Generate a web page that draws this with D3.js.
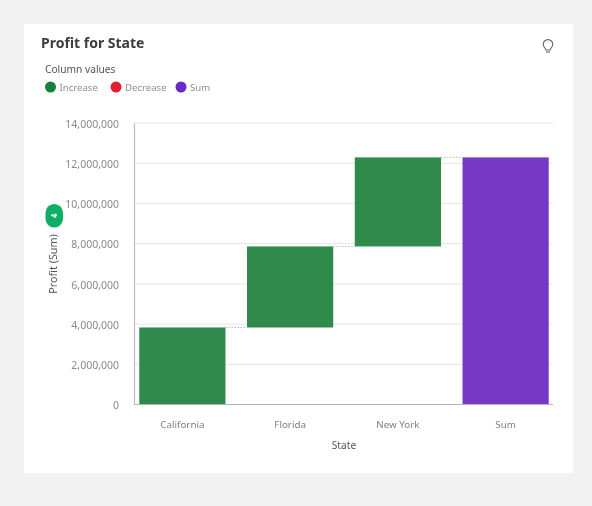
<!DOCTYPE html>
<html>
<head>
<meta charset="utf-8">
<script src="https://cdn.jsdelivr.net/npm/d3@7"></script>
<style>
html,body{margin:0;padding:0;background:#f2f2f2;}
svg{display:block;filter:blur(0.35px);}
text{font-family:"Noto Sans",sans-serif;}
</style>
</head>
<body>
<div id="chart"></div>
<script>
var categories = ["California","Florida","New York"];
var changes = [3830000,4030000,4430000];
var sumLabel = "Sum";
var yTicks = [0,2000000,4000000,6000000,8000000,10000000,12000000,14000000];
var legendNames = ["Increase","Decrease","Sum"];
var legendColors = ["#17803d","#e0202c","#6929c4"];

var w = 592, h = 506;
var svg = d3.select("#chart").append("svg").attr("width",w).attr("height",h);

svg.append("rect").attr("x",24).attr("y",24).attr("width",549).attr("height",449).attr("fill","white");

// running totals for the waterfall
var running = 0;
var bars = [];
changes.forEach(function(c,i){
	bars.push({name:categories[i],from:running,to:running+c,color:"#2f8a4c"});
	running += c;
});
bars.push({name:sumLabel,from:0,to:running,color:"#7539c6"});

var x = d3.scaleBand().domain(bars.map(function(d){return d.name;})).range([128.5,559.5]).paddingInner(0.2).paddingOuter(0.1);
var y = d3.scaleLinear().domain([0,14000000]).range([404.5,123]);
var left = 134, right = 553;

// gridlines
svg.append("g").selectAll("line").data(yTicks.slice(1)).enter().append("line")
	.attr("x1",left).attr("x2",right)
	.attr("y1",function(d){return y(d);}).attr("y2",function(d){return y(d);})
	.attr("stroke","#e6e6e6");

// y axis
var yAxis = svg.append("g").attr("transform","translate("+left+",0)")
	.call(d3.axisLeft(y).tickValues(yTicks).tickFormat(d3.format(",")).tickSize(0).tickPadding(15));
yAxis.select(".domain").attr("stroke","#bdbdbd").attr("stroke-width",1.2);
yAxis.selectAll("text").attr("font-size",10.5).attr("fill","#8a8a8a").attr("dy","0.4em").style("font-family","'Noto Sans',sans-serif");

// connectors
svg.append("g").selectAll("line").data(bars.slice(0,-1)).enter().append("line")
	.attr("x1",function(d){return x(d.name)+x.bandwidth();})
	.attr("x2",function(d,i){return x(bars[i+1].name);})
	.attr("y1",function(d){return y(d.to);}).attr("y2",function(d){return y(d.to);})
	.attr("stroke","#9ccfab").attr("stroke-dasharray","1.5,1.5");

// bars
svg.append("g").selectAll("rect").data(bars).enter().append("rect")
	.attr("x",function(d){return x(d.name);})
	.attr("width",x.bandwidth())
	.attr("y",function(d){return y(d.to);})
	.attr("height",function(d){return y(d.from)-y(d.to);})
	.attr("fill",function(d){return d.color;});

// x axis
var xAxis = svg.append("g").attr("transform","translate(0,404.5)")
	.call(d3.axisBottom(x).tickSize(0).tickPadding(16.5));
xAxis.select(".domain").remove();
xAxis.selectAll("text").attr("font-size",9.8).attr("fill","#808080").style("font-family","'Noto Sans',sans-serif");
svg.append("line").attr("x1",left).attr("x2",right).attr("y1",404.5).attr("y2",404.5)
	.attr("stroke","#b5b5b5").attr("stroke-width",1.2);

// titles
svg.append("text").attr("x",41).attr("y",48).attr("font-size",14).attr("font-weight",700).attr("fill","#3d3d3d").text("Profit for State");
svg.append("text").attr("x",45).attr("y",73).attr("font-size",10.2).attr("fill","#555").text("Column values");
svg.append("text").attr("x",344).attr("y",449).attr("text-anchor","middle").attr("font-size",10.2).attr("fill","#555").text("State");
svg.append("text").attr("transform","translate(56.5,264) rotate(-90)").attr("text-anchor","middle").attr("font-size",10.8).attr("fill","#555").text("Profit (Sum)");

// legend
var legendX = [50.5,116,181];
legendNames.forEach(function(n,i){
	svg.append("circle").attr("cx",legendX[i]).attr("cy",87).attr("r",5.5).attr("fill",legendColors[i]);
	svg.append("text").attr("x",legendX[i]+9).attr("y",90.5).attr("font-size",9.6).attr("fill","#8f8f8f").text(n);
});

// badge on y axis title
svg.append("rect").attr("x",45.5).attr("y",204).attr("width",17.5).attr("height",23.5).attr("rx",8.7).attr("fill","#0fae67");
svg.append("text").attr("transform","translate(57,216) rotate(-90)").attr("text-anchor","middle").attr("font-size",8).attr("font-weight",700).attr("fill","white").text("4");

// bulb icon
var bulb = svg.append("g").attr("transform","translate(548,46)").attr("fill","none").attr("stroke","#666").attr("stroke-width",1.1);
bulb.append("path").attr("d","M-2.2,4 C-2.6,1.8 -4.8,0.8 -4.8,-1.6 A4.8,4.8 0 1 1 4.8,-1.6 C4.8,0.8 2.6,1.8 2.2,4 Z");
bulb.append("line").attr("x1",-2).attr("x2",2).attr("y1",6).attr("y2",6);
</script>
</body>
</html>
